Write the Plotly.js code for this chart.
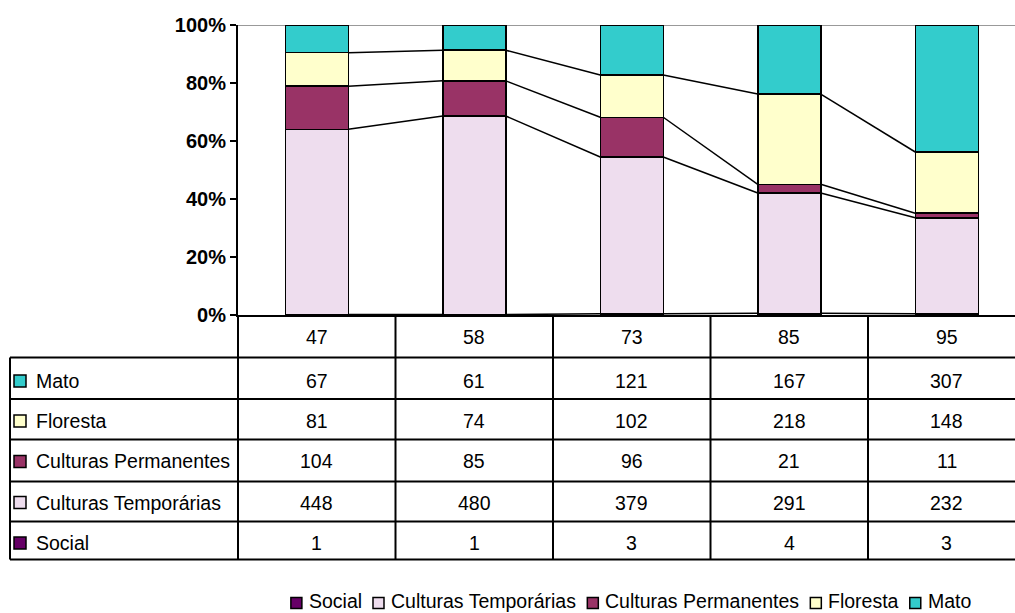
<!DOCTYPE html>
<html><head><meta charset="utf-8">
<script src="https://cdn.plot.ly/plotly-3.0.1.min.js"></script>
<style>html,body{margin:0;padding:0;background:#fff;}#chart{width:1015px;height:613px;}</style>
</head><body><div id="chart"></div>
<script>
// ---- data ----
const categories = ['47', '58', '73', '85', '95'];
const seriesNames = ['Social', 'Culturas Temporárias', 'Culturas Permanentes', 'Floresta', 'Mato'];
const social = [1, 1, 3, 4, 3];
const temporarias = [448, 480, 379, 291, 232];
const permanentes = [104, 85, 96, 21, 11];
const floresta = [81, 74, 102, 218, 148];
const mato = [67, 61, 121, 167, 307];
const seriesColors = ['#660066', '#EEDDEE', '#993366', '#FFFFCC', '#33CCCC'];
const yTickVals = [0, 20, 40, 60, 80, 100];
const yTickText = yTickVals.map(v => v + '%');

// ---- geometry ----
const FONT = '"Liberation Sans", Arial, sans-serif';
const FS = 19.5;
const L = 238, T = 25, BOT = 315, W = 1015, H = 613;
const plotW = W - L, plotH = BOT - T;
const colW = 157.5;
const xRange = [-0.5, -0.5 + plotW / colW];
const fx = px => (px - L) / plotW;
const fy = py => (BOT - py) / plotH;
const dx = x => (x - xRange[0]) / (xRange[1] - xRange[0]);

const series = [social, temporarias, permanentes, floresta, mato];
const xs = categories.map((c, i) => i);
const barW = 0.4;

const traces = series.map((vals, k) => ({
  type: 'bar', x: xs, y: vals, name: seriesNames[k], width: barW,
  marker: {color: seriesColors[k], line: {color: '#000', width: 1.5}},
  showlegend: false, hoverinfo: 'name+y'
}));

// series lines (tops of all series but the last)
const totals = xs.map(i => series.reduce((s, a) => s + a[i], 0));
const cum = [];
let run = xs.map(() => 0);
series.forEach((vals, k) => {
  run = run.map((r, i) => r + vals[i]);
  cum.push(run.map((r, i) => r / totals[i] * 100));
});
for (let k = 0; k < series.length - 1; k++) {
  const lx = [], ly = [];
  for (let i = 0; i < xs.length - 1; i++) {
    lx.push(xs[i] + barW / 2, xs[i + 1] - barW / 2, null);
    ly.push(cum[k][i], cum[k][i + 1], null);
  }
  traces.push({type: 'scatter', mode: 'lines', x: lx, y: ly, line: {color: '#000', width: 1.5},
    showlegend: false, hoverinfo: 'skip', cliponaxis: false});
}

const shapes = [];
const annotations = [];
const black = {color: '#000', width: 2};

// 100% gridline
shapes.push({type: 'line', xref: 'paper', yref: 'y', x0: 0, x1: 1, y0: 100, y1: 100,
  line: {color: '#999', width: 2}, layer: 'below'});

// table
const rowLines = [357.5, 399, 439.5, 481.5, 521.5, 559.5];
const rowCenters = [381, 421, 461.5, 502.5, 543];
const headerCenter = 337;
rowLines.forEach(py => shapes.push({type: 'line', xref: 'paper', yref: 'paper',
  x0: fx(10), x1: 1, y0: fy(py), y1: fy(py), line: black}));
shapes.push({type: 'line', xref: 'paper', yref: 'paper', x0: fx(10), x1: fx(10),
  y0: fy(rowLines[0]), y1: fy(rowLines[5]), line: black});
shapes.push({type: 'line', xref: 'paper', yref: 'paper', x0: 0, x1: 0,
  y0: fy(BOT), y1: fy(rowLines[5]), line: black});
for (let i = 0; i < xs.length - 1; i++) {
  const b = dx(xs[i] + 0.5);
  shapes.push({type: 'line', xref: 'paper', yref: 'paper', x0: b, x1: b,
    y0: fy(BOT), y1: fy(rowLines[5]), line: black});
}
// header row (categories)
categories.forEach((c, i) => annotations.push({xref: 'paper', yref: 'paper', x: dx(xs[i]), y: fy(headerCenter),
  text: c, showarrow: false, xanchor: 'center', yanchor: 'middle', font: {family: FONT, size: FS, color: '#000'}}));
// data rows (top: last series)
for (let r = 0; r < series.length; r++) {
  const k = series.length - 1 - r;
  const cy = rowCenters[r];
  shapes.push({type: 'rect', xref: 'paper', yref: 'paper', x0: fx(14), x1: fx(26), y0: fy(cy - 6), y1: fy(cy + 6),
    fillcolor: seriesColors[k], line: {color: '#000', width: 1.5}});
  annotations.push({xref: 'paper', yref: 'paper', x: fx(34), y: fy(cy), text: seriesNames[k], showarrow: false,
    xanchor: 'left', yanchor: 'middle', font: {family: FONT, size: FS, color: '#000'}});
  series[k].forEach((v, i) => annotations.push({xref: 'paper', yref: 'paper', x: dx(xs[i]), y: fy(cy),
    text: String(v), showarrow: false, xanchor: 'center', yanchor: 'middle', font: {family: FONT, size: FS, color: '#000'}}));
}

// legend (manual, Excel style)
const ctx = document.createElement('canvas').getContext('2d');
ctx.font = FS + 'px "Liberation Sans", Arial, sans-serif';
const SQ = 11, TXOFF = 19, GAP = 10;
const widths = seriesNames.map(n => ctx.measureText(n).width);
const total = widths.reduce((s, w) => s + TXOFF + w, 0) + GAP * (seriesNames.length - 1);
let lx = 631.5 - total / 2;
const legY = 603;
seriesNames.forEach((n, k) => {
  shapes.push({type: 'rect', xref: 'paper', yref: 'paper', x0: fx(lx), x1: fx(lx + SQ),
    y0: fy(legY - SQ / 2), y1: fy(legY + SQ / 2), fillcolor: seriesColors[k], line: {color: '#000', width: 1.5}});
  annotations.push({xref: 'paper', yref: 'paper', x: fx(lx + TXOFF - 2), y: fy(legY - 2), text: n, showarrow: false,
    xanchor: 'left', yanchor: 'middle', borderpad: 0, font: {family: FONT, size: FS, color: '#000'}});
  lx += TXOFF + widths[k] + GAP;
});

const layout = {
  width: W, height: H,
  margin: {l: L, r: 0, t: T, b: H - BOT, pad: 0},
  paper_bgcolor: '#fff', plot_bgcolor: '#fff',
  barmode: 'stack', barnorm: 'percent',
  showlegend: false,
  xaxis: {range: xRange, showgrid: false, zeroline: false, showticklabels: false, ticks: '',
    showline: true, linecolor: '#000', linewidth: 2, fixedrange: true},
  yaxis: {range: [0, 100], tickmode: 'array', tickvals: yTickVals, ticktext: yTickText,
    showgrid: false, zeroline: false,
    ticks: 'outside', ticklen: 6, tickwidth: 2, tickcolor: '#000',
    showline: true, linecolor: '#000', linewidth: 2,
    tickfont: {family: FONT, size: 20, color: '#000', weight: 'bold'}, fixedrange: true},
  shapes: shapes, annotations: annotations
};

Plotly.newPlot('chart', traces, layout, {displayModeBar: false, staticPlot: true});
</script>
</body></html>
